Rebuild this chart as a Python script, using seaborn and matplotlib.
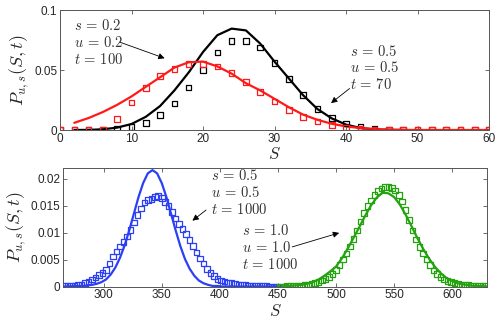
import numpy as np
import seaborn as sns
import matplotlib
matplotlib.use("Agg")
import matplotlib.pyplot as plt

# ---- top panel data (S = 0..60) ----
S_pts_top = np.arange(0, 61, 2)
red_pts = [0, 0, 0, 0.0003, 0.009, 0.023, 0.035, 0.045, 0.051, 0.055, 0.055,
           0.053, 0.0475, 0.040, 0.0317, 0.0236, 0.0167, 0.011, 0.007, 0.004,
           0.002, 0.001, 0.0003, 0, 0, 0, 0, 0, 0, 0, 0]
black_pts = [0, 0, 0, 0.0003, 0.0008, 0.0025, 0.006, 0.0125, 0.022, 0.0356,
             0.050, 0.0647, 0.074, 0.074, 0.0686, 0.056, 0.0425, 0.029, 0.0175,
             0.010, 0.0056, 0.0025, 0.001, 0.0003, 0, 0, 0, 0, 0, 0, 0]

S_red_line = np.arange(2, 61, 2)
red_line = [0.006, 0.010, 0.015, 0.021, 0.028, 0.036, 0.044, 0.052, 0.0565,
            0.057, 0.053, 0.047, 0.039, 0.033, 0.026, 0.019, 0.0128, 0.0085,
            0.0052, 0.003, 0.0016, 0.0008, 0.0003, 0.0001, 0, 0, 0, 0, 0, 0]
S_black_line = np.arange(2, 49, 2)
black_line = [0, 0.0001, 0.0006, 0.002, 0.005, 0.011, 0.020, 0.033, 0.048,
              0.065, 0.079, 0.0845, 0.083, 0.072, 0.057, 0.043, 0.029, 0.0175,
              0.0097, 0.0045, 0.0017, 0.0005, 0.0001, 0]

# ---- bottom panel data ----
S_blue_pts = np.arange(266, 450, 3)
blue_pts = [0.0001, 0.0001, 0.0002, 0.0002, 0.0003, 0.0004, 0.0006, 0.0009,
            0.0013, 0.0017, 0.0021, 0.0025, 0.0031, 0.0043, 0.0056, 0.0065,
            0.0074, 0.0083, 0.0093, 0.0105, 0.0119, 0.0133, 0.0145, 0.0156,
            0.0161, 0.0162, 0.0166, 0.0168, 0.0164, 0.0157, 0.0149, 0.0138,
            0.0126, 0.0116, 0.0107, 0.0097, 0.0086, 0.0075, 0.0063, 0.0052,
            0.0043, 0.0032, 0.0025, 0.0020, 0.0014, 0.0011, 0.0009, 0.0007,
            0.0006, 0.0005, 0.0004, 0.0003, 0.0003, 0.0002, 0.0002, 0.0001,
            0.0001, 0.0001, 0.0001, 0, 0, 0]
S_blue_line = np.arange(266, 451, 4)
blue_line = [0, 0, 0.0001, 0.0001, 0.0001, 0.0002, 0.0003, 0.0005, 0.0008,
             0.0013, 0.0022, 0.0035, 0.0053, 0.0076, 0.0104, 0.0135, 0.0166,
             0.0192, 0.0210, 0.0216, 0.0210, 0.0192, 0.0166, 0.0135, 0.0104,
             0.0075, 0.0051, 0.0033, 0.0020, 0.0011, 0.0006, 0.0003, 0.0001,
             0.0001, 0, 0, 0, 0, 0, 0, 0, 0, 0, 0, 0, 0, 0]

S_green_pts = np.arange(452, 630, 3)
green_pts = [0, 0, 0.0001, 0.0001, 0.0001, 0.0002, 0.0002, 0.0003, 0.0004,
             0.0005, 0.0006, 0.0008, 0.0011, 0.0014, 0.0018, 0.0023, 0.0031,
             0.0040, 0.0050, 0.0061, 0.0074, 0.0088, 0.0104, 0.0121, 0.0136,
             0.0149, 0.0160, 0.0170, 0.0177, 0.0182, 0.0185, 0.0185, 0.0183,
             0.0178, 0.0170, 0.0158, 0.0142, 0.0123, 0.0104, 0.0087, 0.0073,
             0.0061, 0.0050, 0.0040, 0.0030, 0.0023, 0.0018, 0.0013, 0.0010,
             0.0008, 0.0006, 0.0005, 0.0004, 0.0003, 0.0003, 0.0002, 0.0002,
             0.0002, 0.0001, 0.0001]
S_green_line = np.arange(450, 631, 5)
green_line = [0, 0.0001, 0.0001, 0.0002, 0.0003, 0.0005, 0.0008, 0.0013,
              0.0020, 0.0028, 0.0037, 0.0052, 0.0070, 0.0090, 0.0110, 0.0131,
              0.0150, 0.0165, 0.0174, 0.0173, 0.0166, 0.0152, 0.0133, 0.0112,
              0.0090, 0.0070, 0.0052, 0.0037, 0.0025, 0.0016, 0.0010, 0.0006,
              0.0004, 0.0002, 0.0001, 0.0001, 0]

RED = "#ff1a1a"
BLUE = "#2b3ff5"
GREEN = "#23a30d"

sns.set_style("white")
plt.rcParams['font.family'] = ['Liberation Sans', 'DejaVu Sans']
plt.rcParams['mathtext.fontset'] = 'cm'
plt.rcParams['xtick.direction'] = 'in'
plt.rcParams['ytick.direction'] = 'in'

fig = plt.figure(figsize=(4.98, 3.23), dpi=100)
ax1 = fig.add_axes([0.1205, 0.5975, 0.8615, 0.3715])
ax2 = fig.add_axes([0.1265, 0.113, 0.8515, 0.367])


def square_pts(ax, x, y, c):
    sns.scatterplot(x=x, y=y, ax=ax, marker='s', s=16, facecolor='none',
                    edgecolor=c, linewidth=0.9, zorder=3)


sns.lineplot(x=S_black_line, y=black_line, ax=ax1, color='black', lw=1.6)
square_pts(ax1, S_pts_top, black_pts, 'black')
sns.lineplot(x=S_red_line, y=red_line, ax=ax1, color=RED, lw=1.6)
square_pts(ax1, S_pts_top, red_pts, RED)

sns.lineplot(x=S_blue_line, y=blue_line, ax=ax2, color=BLUE, lw=1.6)
square_pts(ax2, S_blue_pts, blue_pts, BLUE)
sns.lineplot(x=S_green_line, y=green_line, ax=ax2, color=GREEN, lw=1.6)
square_pts(ax2, S_green_pts, green_pts, GREEN)

ax1.set_xlim(0, 60)
ax1.set_ylim(0, 0.1)
ax1.set_xticks(range(0, 61, 10))
ax1.set_yticks([0, 0.05, 0.1])
ax1.set_yticklabels(['0', '0.05', '0.1'])

ax2.set_xlim(265, 630)
ax2.set_ylim(0, 0.022)
ax2.set_xticks(range(300, 601, 50))
ax2.set_yticks([0, 0.005, 0.01, 0.015, 0.02])
ax2.set_yticklabels(['0', '0.005', '0.01', '0.015', '0.02'])

for ax in (ax1, ax2):
    ax.tick_params(bottom=True, left=True, top=True, right=True, length=3,
                   width=0.6, labelsize=8.5, color='#555555', pad=2)
    for sp in ax.spines.values():
        sp.set_color('#555555')
        sp.set_linewidth(0.7)
    ax.set_xlabel('$S$', fontsize=12, labelpad=1)
    ax.set_ylabel('$P_{u,s}(S,t)$', fontsize=13, labelpad=2)

arrow = dict(arrowstyle='-|>', color='black', lw=0.6, mutation_scale=9)
tfont = dict(fontsize=10.5, color='#333333', va='top', ha='left', linespacing=1.15)

ax1.text(2, 0.093, '$s\\,=\\,0.2$\n$u\\,=\\,0.2$\n$t\\,=\\,100$', **tfont)
ax1.annotate('', xy=(15.0, 0.059), xytext=(8.0, 0.074), arrowprops=arrow)
ax1.text(40.6, 0.072, '$s\\,=\\,0.5$\n$u\\,=\\,0.5$\n$t\\,=\\,70$', **tfont)
ax1.annotate('', xy=(37.6, 0.021), xytext=(40.8, 0.036), arrowprops=arrow)

ax2.text(392, 0.0219, '$s\\,=\\,0.5$\n$u\\,=\\,0.5$\n$t\\,=\\,1000$', **tfont)
ax2.annotate('', xy=(374.5, 0.0119), xytext=(390, 0.0145), arrowprops=arrow)
ax2.text(419, 0.0117, '$s\\,=\\,1.0$\n$u\\,=\\,1.0$\n$t\\,=\\,1000$', **tfont)
ax2.annotate('', xy=(505, 0.0101), xytext=(460, 0.0072), arrowprops=arrow)

fig.savefig('out.png', dpi=100)
